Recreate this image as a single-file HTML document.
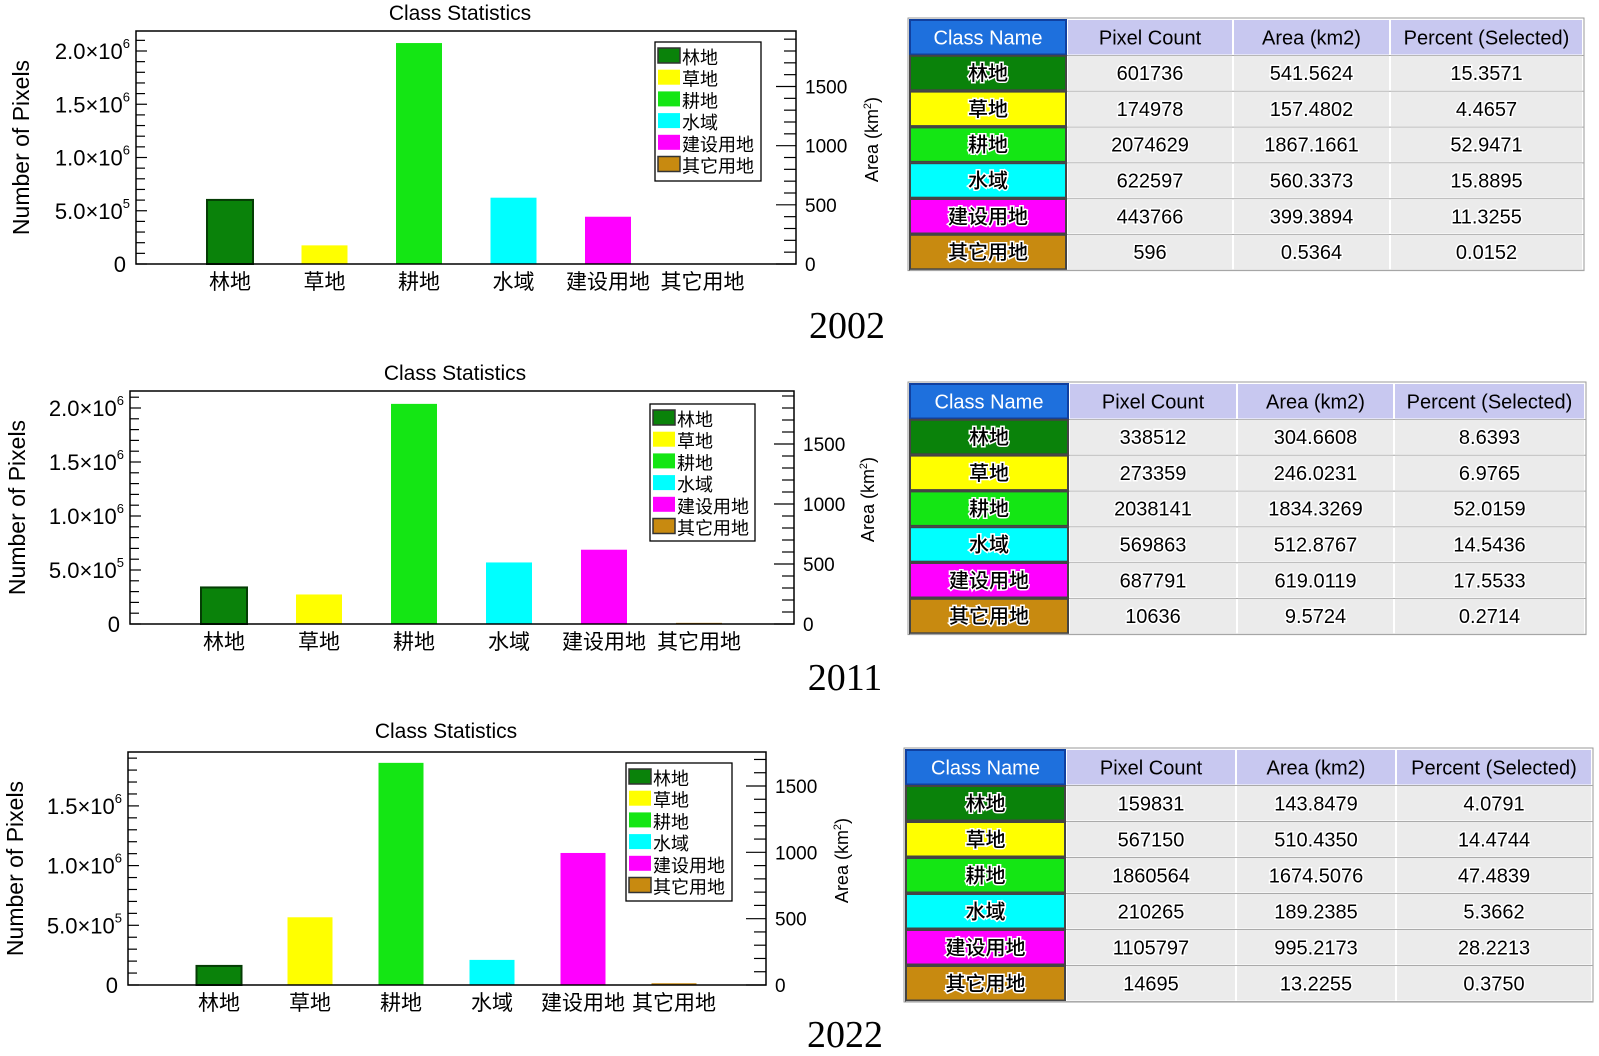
<!DOCTYPE html>
<html><head><meta charset="utf-8"><style>
html,body{margin:0;padding:0;background:#fff;}
svg{display:block;font-family:"Liberation Sans","Noto Sans CJK SC",sans-serif;}
</style></head><body>
<svg id="root" width="1599" height="1056" viewBox="0 0 1599 1056" xmlns="http://www.w3.org/2000/svg"></svg>
<script>
const categories = ["林地","草地","耕地","水域","建设用地","其它用地"];
const colors = ["#0a820a","#ffff00","#14e614","#00ffff","#ff00ff","#c88a10"];
const years = ["2002","2011","2022"];
const pixels2002 = [601736,174978,2074629,622597,443766,596];
const pixels2011 = [338512,273359,2038141,569863,687791,10636];
const pixels2022 = [159831,567150,1860564,210265,1105797,14695];
const area2002 = ["541.5624","157.4802","1867.1661","560.3373","399.3894","0.5364"];
const area2011 = ["304.6608","246.0231","1834.3269","512.8767","619.0119","9.5724"];
const area2022 = ["143.8479","510.4350","1674.5076","189.2385","995.2173","13.2255"];
const pct2002 = ["15.3571","4.4657","52.9471","15.8895","11.3255","0.0152"];
const pct2011 = ["8.6393","6.9765","52.0159","14.5436","17.5533","0.2714"];
const pct2022 = ["4.0791","14.4744","47.4839","5.3662","28.2213","0.3750"];
const leftTicks = [0,5e5,1e6,1.5e6,2e6];
const leftTickLabels = ["0","5.0×10|5","1.0×10|6","1.5×10|6","2.0×10|6"];
const rightTicks = [0,500,1000,1500];
const kmPerPixel = 0.0009;

const NS="http://www.w3.org/2000/svg";
const root=document.getElementById('root');
function mk(tag,attrs,parent){const e=document.createElementNS(NS,tag);for(const k in attrs)e.setAttribute(k,attrs[k]);(parent||root).appendChild(e);return e;}

const panels=[
 {year:years[0],data:pixels2002,area:area2002,pct:pct2002,L:136,R:796,T:31,B:264,step:53.25,c0:230,dx:94.5,bw:46,title:[460,20],leg:[655,42,106,139],yr:[847,338],lt:22,rt:872,
  tb:{x:[910,1068,1234,1391,1584],y:20,h:34.5,p:35.8}},
 {year:years[1],data:pixels2011,area:area2011,pct:pct2011,L:130,R:794,T:391,B:624,step:54,c0:224,dx:95,bw:46,title:[455,380],leg:[650,404,105,137],yr:[845,690],lt:18,rt:868,
  tb:{x:[910,1070,1238,1395,1586],y:384,h:34.5,p:35.8}},
 {year:years[2],data:pixels2022,area:area2022,pct:pct2022,L:128,R:766,T:752,B:985,step:59.7,c0:219,dx:91,bw:45,title:[446,738],leg:[626,763,106,138],yr:[845,1047],lt:16,rt:842,
  tb:{x:[906,1067,1237,1397,1593],y:750,h:34.5,p:36}}
];

panels.forEach((p,pi)=>{
 const g=mk('g',{});
 
 
 const yPix=v=>p.B-v/5e5*p.step;
 const yArea=a=>yPix(a/kmPerPixel);
 const t=mk('text',{x:p.title[0],y:p.title[1],'font-size':21,'text-anchor':'middle'},g);t.textContent='Class Statistics';
 
 p.data.forEach((v,i)=>{
  const cx=p.c0+i*p.dx,y=yPix(v);
  const r=mk('rect',{x:cx-p.bw/2,y:y,width:p.bw,height:p.B-y,fill:colors[i],stroke:i==0?'#053d05':'none','stroke-width':i==0?2:0},g);
  
  const l=mk('text',{x:cx,y:p.B+25,'font-size':21,'text-anchor':'middle'},g);l.textContent=categories[i];
  
 });
 const f=mk('rect',{x:p.L,y:p.T,width:p.R-p.L,height:p.B-p.T,fill:'none',stroke:'#000','stroke-width':1.5},g);
 
 for(let v=0;yPix(v)>p.T+3;v+=1e5){const y=yPix(v);const major=Math.round(v/1e5)%5==0;mk('line',{x1:p.L,x2:p.L+(major?11:9),y1:y,y2:y,stroke:'#000','stroke-width':1.2},g);}
 leftTicks.forEach((v,i)=>{const y=yPix(v);if(y<p.T)return;const parts=leftTickLabels[i].split('|');
  const tx=mk('text',{x:p.L-10,y:y+8,'font-size':22,'text-anchor':'end'},g);
  
  tx.appendChild(document.createTextNode(parts[0]));
  if(parts[1]){const s=mk('tspan',{'font-size':13,dy:-11},tx);s.textContent=parts[1];tx.setAttribute('x',p.L-6);}
 });
 for(let a=0;yArea(a)>p.T+3;a+=100){const y=yArea(a);const major=a%500==0;mk('line',{x1:p.R,x2:p.R-(major?20:12),y1:y,y2:y,stroke:'#000','stroke-width':1.2},g);}
 rightTicks.forEach(a=>{const y=yArea(a);if(y<p.T)return;const tx=mk('text',{x:p.R+9,y:y+7,'font-size':19},g);tx.textContent=String(a);
  });
 const yt=mk('text',{x:0,y:0,'font-size':23,'font-weight':'500','text-anchor':'middle',transform:`translate(${p.lt+7},${(p.T+p.B)/2}) rotate(-90)`},g);yt.textContent='Number of Pixels';
 
 const rt=mk('text',{x:0,y:0,'font-size':18,'text-anchor':'middle',transform:`translate(${p.rt+6},${(p.T+p.B)/2-8}) rotate(-90)`},g);
 
 rt.appendChild(document.createTextNode('Area (km'));const sp=mk('tspan',{'font-size':11,dy:-7},rt);sp.textContent='2';const s2=mk('tspan',{dy:7},rt);s2.textContent=')';
 const lg=mk('g',{},g);
 const [lx,ly,lw,lh]=p.leg;mk('rect',{x:lx,y:ly,width:lw,height:lh,fill:'#fff',stroke:'#000','stroke-width':1.3},lg);
 categories.forEach((c,i)=>{const ey=ly+6+i*21.7;
  const e=mk('g',{},lg);
  mk('rect',{x:lx+3,y:ey,width:22,height:15,fill:colors[i],stroke:(i==0||i==5)?'#333':'none','stroke-width':1.5},e);
  const tx=mk('text',{x:lx+27,y:ey+16,'font-size':18},e);tx.textContent=c;});
 const yr=mk('text',{x:p.yr[0],y:p.yr[1],'font-size':38,'text-anchor':'middle','font-family':'"Liberation Serif",serif'},g);yr.textContent=p.year;
 
 const tbg=mk('g',{},root);
 const X=p.tb.x;
 mk('rect',{x:X[0]-2,y:p.tb.y-2,width:X[4]-X[0]+2,height:p.tb.p*7+2,fill:'#fff',stroke:'#999','stroke-width':1},tbg);
 const headers=['Class Name','Pixel Count','Area (km2)','Percent (Selected)'];
 for(let r=0;r<7;r++){
  const y=p.tb.y+r*p.tb.p;
  for(let c=0;c<4;c++){
   const x=X[c],w=X[c+1]-X[c]-2;let fill,txt,stroke='none',tc='#000';
   if(r==0){fill=c==0?'#1e70dd':'#c8c8f0';txt=headers[c];if(c==0){stroke='#1040a0';tc='#fff';}}
   else{const i=r-1;if(c==0){fill=colors[i];txt=categories[i];stroke='#444';}else{fill='#ebebeb';txt=c==1?String(p.data[i]):c==2?p.area[i]:p.pct[i];}}
   const cell=mk('rect',{x:x,y:y,width:w,height:p.tb.h,fill:fill,stroke:stroke,'stroke-width':2},tbg);
   
   const tx=mk('text',{x:x+w/2,y:y+p.tb.h/2+7,'font-size':20,'font-weight':'500','text-anchor':'middle',fill:tc,stroke:r>0?'#fff':'none','stroke-width':r>0?3:0,'paint-order':'stroke'},tbg);tx.textContent=txt;
  }
  mk('line',{x1:X[0],x2:X[4],y1:y+p.tb.h+1,y2:y+p.tb.h+1,stroke:'#aaa','stroke-width':1},tbg);
 }
});
</script>
</body></html>
